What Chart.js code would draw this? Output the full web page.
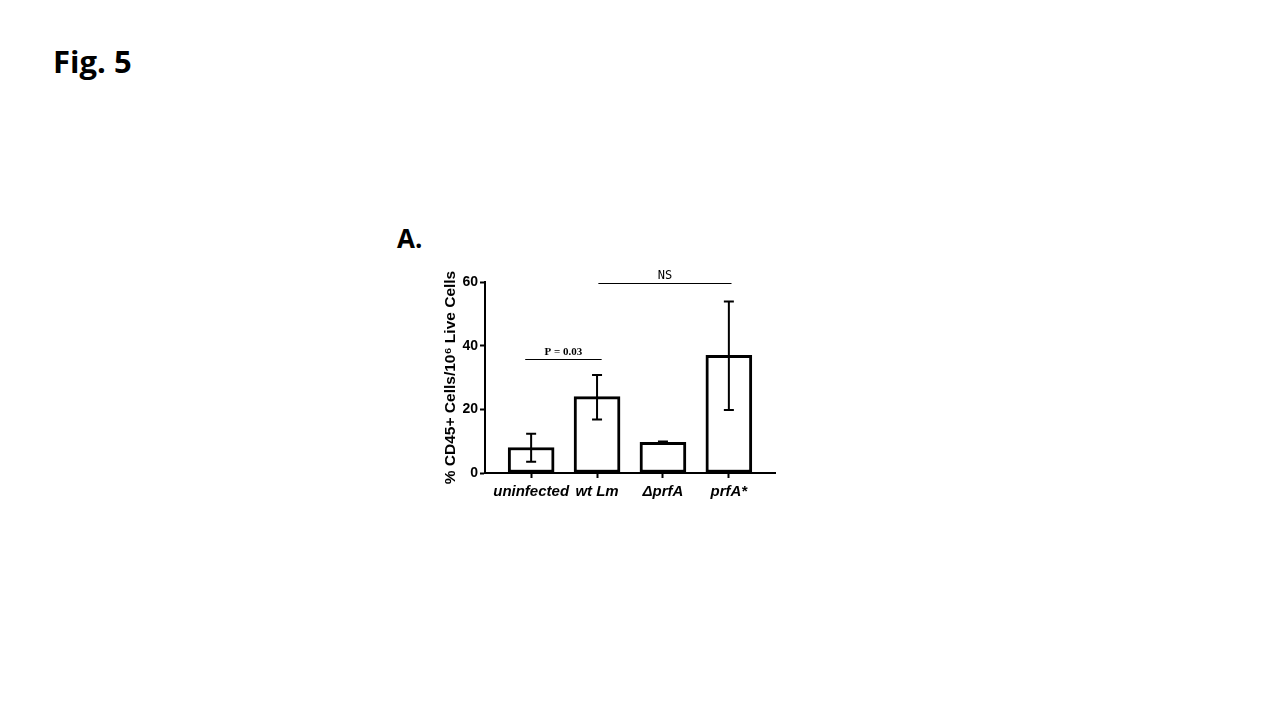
<!DOCTYPE html>
<html>
<head>
<meta charset="utf-8">
<script src="https://cdn.jsdelivr.net/npm/chart.js@4/dist/chart.umd.min.js"></script>
<style>
  html, body { margin: 0; padding: 0; background: #fff; width: 1280px; height: 720px; overflow: hidden; }
  .fig { position: absolute; left: 53px; top: 40px; font: bold 31px "Open Sans", "Liberation Sans", sans-serif; color: #000; }
  .panel { position: absolute; left: 397px; top: 220px; font: bold 26px "Open Sans", "Liberation Sans", sans-serif; color: #000; }
  #wrap { position: absolute; left: 430px; top: 250px; width: 360px; height: 270px; }
</style>
</head>
<body>
<div class="fig">Fig. 5</div>
<div class="panel">A.</div>
<div id="wrap"><canvas id="chart"></canvas></div>
<script>
// group labels and values (mean, error bar low/high)
const groups = ['uninfected', 'wt Lm', '\u0394prfA', 'prfA*'];
const means = [8, 24, 9.6, 37];
const errLow = [3.5, 16.8, 9.3, 19.8];
const errHigh = [12.3, 30.8, 9.9, 53.9];
const yTicks = [0, 20, 40, 60];

// significance brackets: from group, to group, height, label
const brackets = [
  { from: -0.09, to: 1.07, y: 35.7, text: 'P = 0.03', font: 'bold 11px "Liberation Serif", serif' },
  { from: 1.02, to: 3.04, y: 59.6, text: 'NS', font: '12px "DejaVu Sans Mono", monospace' }
];

const extrasPlugin = {
  id: 'extras',
  afterDatasetsDraw(chart) {
    const ctx = chart.ctx;
    const xs = chart.scales.x, ys = chart.scales.y;
    ctx.save();
    ctx.strokeStyle = '#000';
    ctx.fillStyle = '#000';
    // error bars
    ctx.lineWidth = 2;
    means.forEach((m, i) => {
      const x = xs.getPixelForValue(i);
      const yl = ys.getPixelForValue(errLow[i]);
      const yh = ys.getPixelForValue(errHigh[i]);
      ctx.beginPath();
      ctx.moveTo(x, yl); ctx.lineTo(x, yh);
      ctx.moveTo(x - 5, yl); ctx.lineTo(x + 5, yl);
      ctx.moveTo(x - 5, yh); ctx.lineTo(x + 5, yh);
      ctx.stroke();
    });
    // brackets
    ctx.lineWidth = 1;
    ctx.textAlign = 'center';
    ctx.textBaseline = 'bottom';
    brackets.forEach(b => {
      const x1 = xs.getPixelForValue(b.from);
      const x2 = xs.getPixelForValue(b.to);
      const y = Math.round(ys.getPixelForValue(b.y)) + 0.5;
      ctx.beginPath();
      ctx.moveTo(x1, y); ctx.lineTo(x2, y);
      ctx.stroke();
      ctx.font = b.font;
      ctx.fillText(b.text, (x1 + x2) / 2, y - 2);
    });
    ctx.restore();
  }
};

new Chart(document.getElementById('chart'), {
  type: 'bar',
  data: {
    datasets: [{
      data: means.map((v, i) => ({ x: i, y: v })),
      backgroundColor: '#fff',
      borderColor: '#000',
      borderWidth: 3,
      borderSkipped: false,
      barThickness: 46
    }]
  },
  options: {
    responsive: true,
    maintainAspectRatio: false,
    animation: false,
    layout: { padding: { top: 32, right: 15, left: 0, bottom: 0 } },
    plugins: { legend: { display: false }, tooltip: { enabled: false } },
    scales: {
      x: {
        type: 'linear',
        offset: false,
        min: -0.7,
        max: 3.7,
        afterBuildTicks: s => { s.ticks = groups.map((g, i) => ({ value: i })); },
        afterFit: s => { s.height = 47; },
        border: { color: '#000', width: 2 },
        grid: { offset: false, drawOnChartArea: false, tickLength: 5, tickColor: '#000', tickWidth: 2 },
        ticks: {
          color: '#000',
          padding: 5,
          maxRotation: 0,
          autoSkip: false,
          font: { family: 'Liberation Sans, Arial, sans-serif', size: 15, weight: 'bold', style: 'italic' },
          callback: v => groups[v]
        }
      },
      y: {
        min: 0,
        max: 60,
        afterBuildTicks: s => { s.ticks = yTicks.map(v => ({ value: v })); },
        afterFit: s => { s.width = 55; },
        border: { color: '#000', width: 2 },
        grid: { drawOnChartArea: false, tickLength: 5, tickColor: '#000', tickWidth: 2 },
        ticks: {
          color: '#000',
          padding: 2,
          font: { family: 'Liberation Sans, Arial, sans-serif', size: 14, weight: 'bold' }
        },
        title: {
          display: true,
          text: '% CD45+ Cells/10\u2076 Live Cells',
          color: '#000',
          padding: { top: 11, bottom: 0 },
          font: { family: 'Liberation Sans, Arial, sans-serif', size: 15.5, weight: 'bold' }
        }
      }
    }
  },
  plugins: [extrasPlugin]
});
</script>
</body>
</html>
